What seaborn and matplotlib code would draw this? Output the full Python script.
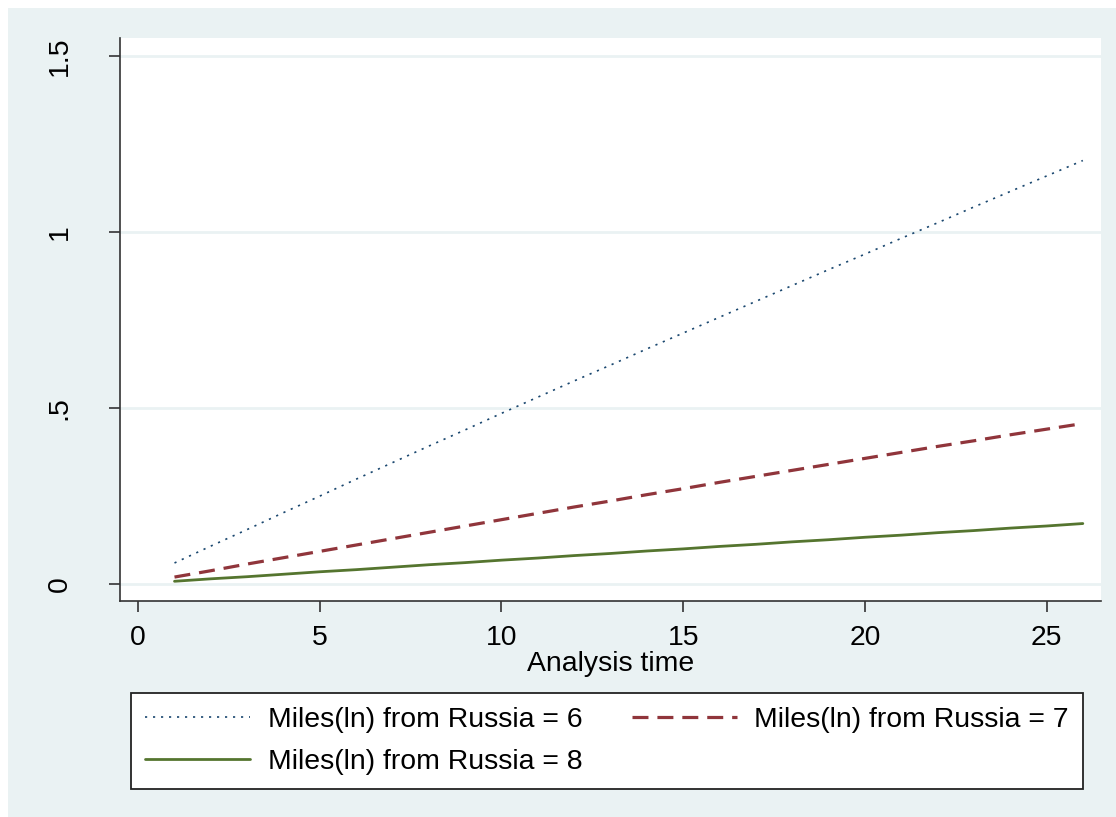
import pandas as pd
import matplotlib.pyplot as plt
import matplotlib.patches as patches
import seaborn as sns

# Tiempos y valores
tiempo = list(range(1, 27))
miles_6 = [0.060, 0.108, 0.155, 0.203, 0.250, 0.298, 0.345, 0.392, 0.438, 0.485,
           0.531, 0.577, 0.622, 0.668, 0.713, 0.758, 0.803, 0.848, 0.893, 0.937,
           0.982, 1.026, 1.071, 1.115, 1.159, 1.203]
miles_7 = [0.020, 0.038, 0.057, 0.075, 0.093, 0.111, 0.129, 0.147, 0.165, 0.183,
           0.201, 0.219, 0.236, 0.254, 0.271, 0.289, 0.306, 0.323, 0.340, 0.357,
           0.374, 0.391, 0.407, 0.424, 0.440, 0.456]
miles_8 = [0.008, 0.015, 0.021, 0.028, 0.035, 0.041, 0.048, 0.055, 0.061, 0.068,
           0.074, 0.081, 0.087, 0.094, 0.100, 0.107, 0.113, 0.120, 0.126, 0.133,
           0.139, 0.146, 0.152, 0.159, 0.165, 0.172]
etiquetas = ['Miles(ln) from Russia = 6', 'Miles(ln) from Russia = 7',
             'Miles(ln) from Russia = 8']
y_ticks = [0, 0.5, 1, 1.5]
y_labels = ['0', '.5', '1', '1.5']
x_ticks = [0, 5, 10, 15, 20, 25]

sns.set_style('white')
plt.rcParams['font.family'] = ['Liberation Sans', 'DejaVu Sans']
plt.rcParams['text.color'] = 'black'
plt.rcParams['axes.labelcolor'] = 'black'

fondo = '#eaf2f3'
fs = 20.4
fig = plt.figure(figsize=(11.16, 8.17), dpi=100)
fig.patch.set_facecolor('white')
fig.patches.append(patches.Rectangle((8 / 1116, 0), 1.0, 1 - 8 / 817,
                                     transform=fig.transFigure, facecolor=fondo,
                                     edgecolor='none', zorder=-10))

ax = fig.add_axes([120 / 1116, 1 - 601 / 817, 981 / 1116, 563 / 817])
ax.set_facecolor('white')

for yv in y_ticks:
    ax.axhline(yv, color=fondo, lw=2, zorder=0)

estilos = [
    dict(color='#1a476f', lw=1.2, linestyle=(0, (1.3, 3.5))),
    dict(color='#90353b', lw=2.3, linestyle=(0, (5, 2.8))),
    dict(color='#55752f', lw=2.0, linestyle='-'),
]
series = [miles_6, miles_7, miles_8]
for serie, etiqueta, est in zip(series, etiquetas, estilos):
    df = pd.DataFrame({'t': tiempo, 'valor': serie})
    sns.lineplot(data=df, x='t', y='valor', ax=ax, label=etiqueta, **est)
hs, ls = ax.get_legend_handles_labels()
ax.get_legend().remove()

ax.set_xlim(-0.5, 26.5)
ax.set_ylim(-0.048, 1.551)
ax.set_xticks(x_ticks)
ax.set_yticks(y_ticks)
ax.set_yticklabels(y_labels, rotation=90, va='center')
ax.tick_params(axis='both', direction='out', length=8, width=1.2, color='#333333',
               labelcolor='black', labelsize=fs, left=True, bottom=True)
ax.tick_params(axis='y', pad=26)
ax.tick_params(axis='x', pad=9)
ax.set_xlabel('Analysis time', fontsize=fs, labelpad=0)
ax.set_ylabel('')

for lado in ['top', 'right']:
    ax.spines[lado].set_visible(False)
for lado in ['left', 'bottom']:
    ax.spines[lado].set_color('#333333')
    ax.spines[lado].set_linewidth(1.2)

# orden por filas como en el original
orden = [0, 2, 1]
leg = fig.legend([hs[i] for i in orden], [ls[i] for i in orden], ncol=2,
                 loc='upper left', bbox_to_anchor=(131 / 1116, 1 - 693 / 817),
                 fontsize=fs, frameon=True, fancybox=False, framealpha=1,
                 handlelength=3.7, handletextpad=0.62, borderaxespad=0,
                 labelspacing=0.55, borderpad=0.5, columnspacing=1.75)
leg.get_frame().set_edgecolor('#222222')
leg.get_frame().set_linewidth(1.3)
leg.get_frame().set_facecolor('white')

plt.savefig('out.png', dpi=100, facecolor=fig.get_facecolor())
